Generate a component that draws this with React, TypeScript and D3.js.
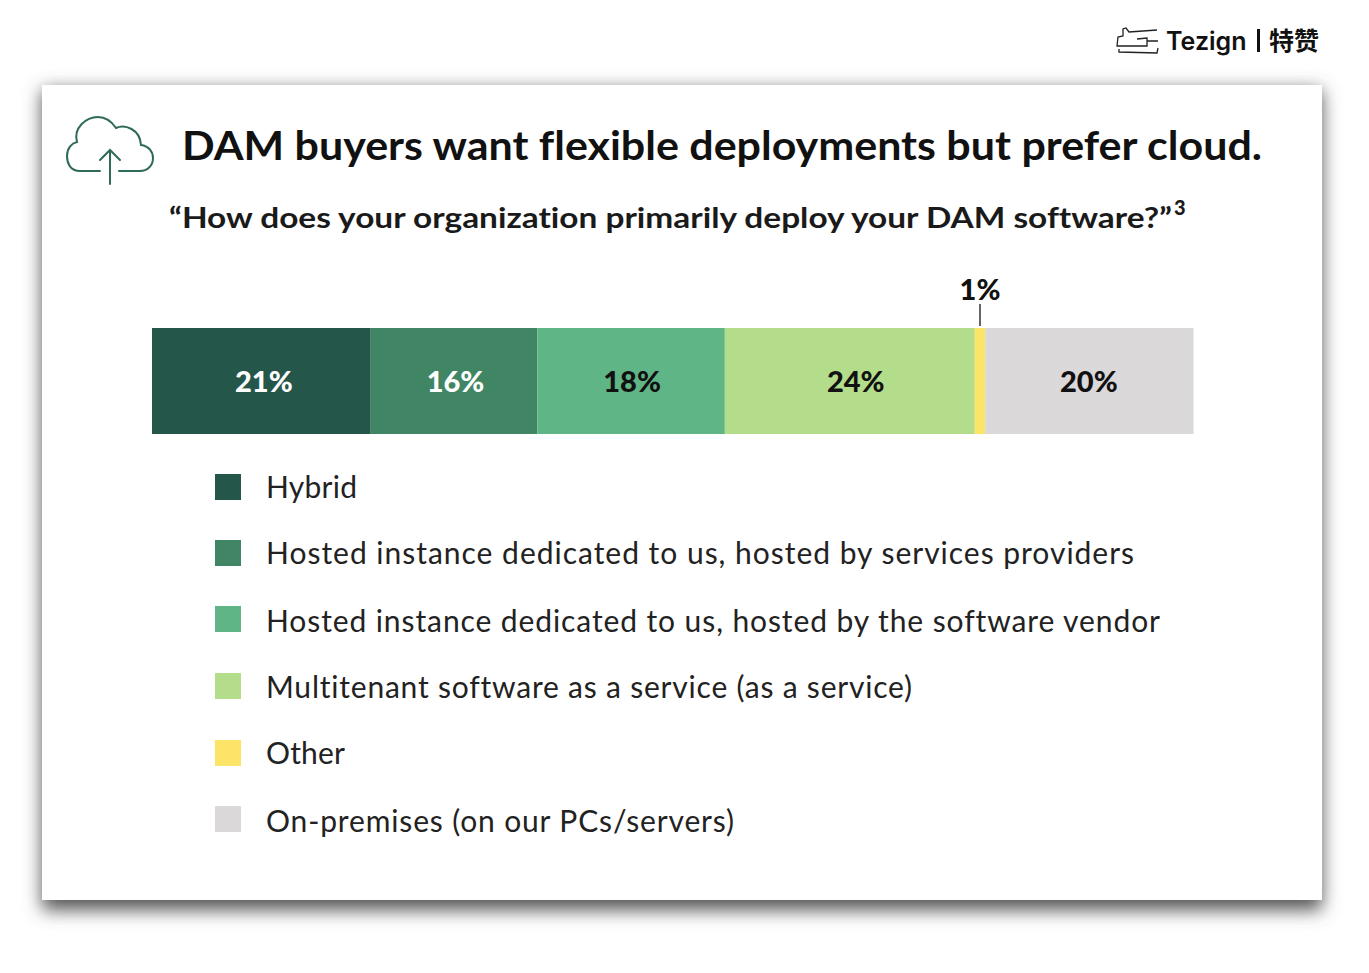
import { useEffect, useRef } from "react"
import * as d3 from "d3"

const categories = [
  "Hybrid",
  "Hosted instance dedicated to us, hosted by services providers",
  "Hosted instance dedicated to us, hosted by the software vendor",
  "Multitenant software as a service (as a service)",
  "Other",
  "On-premises (on our PCs/servers)",
]
const values = [21, 16, 18, 24, 1, 20]
const colors = ["#24564a", "#418664", "#5fb585", "#b4dd8b", "#fbe468", "#dad8d9"]
const labelColors = ["#ffffff", "#ffffff", "#111111", "#111111", "#111111", "#111111"]
// legend layout, rows are not evenly spaced
const legendSwatchTops = [474, 540, 606, 673, 740, 806]
const legendBaselines = [498, 564, 632, 698, 764, 832]
const legendWidths = [91, 868, 894, 646, 79, 468]
// the slide's labels do not sit exactly in the middle of their segments
const labelNudge = [2.5, 1.5, 1, 6, 0, -0.5]

const WIDTH = 1369
const HEIGHT = 973
const FONT = "Lato, 'Open Sans', sans-serif"

export default function App() {
  const svgRef = useRef<SVGSVGElement>(null)

  useEffect(() => {
    if (!svgRef.current) return

    // Clear previous chart
    d3.select(svgRef.current).selectAll("*").remove()

    const svg = d3.select(svgRef.current).style("font-variant-ligatures", "none")

    // Drop shadow of the slide
    const defs = svg.append("defs")
    const filter = defs
      .append("filter")
      .attr("id", "slide-shadow")
      .attr("x", "-10%")
      .attr("y", "-10%")
      .attr("width", "120%")
      .attr("height", "125%")
    filter.append("feGaussianBlur").attr("stdDeviation", 9)

    svg
      .append("rect")
      .attr("x", 42)
      .attr("y", 90)
      .attr("width", 1280)
      .attr("height", 820)
      .attr("fill", "#555555")
      .attr("filter", "url(#slide-shadow)")

    svg
      .append("rect")
      .attr("x", 42)
      .attr("y", 85)
      .attr("width", 1280)
      .attr("height", 815)
      .attr("fill", "#ffffff")

    // Tezign logo
    const logo = svg
      .append("g")
      .attr("fill", "none")
      .attr("stroke", "#222222")
      .attr("stroke-width", 1.3)
    logo
      .append("path")
      .attr(
        "d",
        "M1157 30 L1129 32 L1126 28 L1123 29 L1123 36 L1118 37 L1117 46 L1147 46 L1147 41 L1158 41 M1137 39 L1147 38 L1147 41 M1119 49 L1119 52 L1157 53 L1158 48",
      )

    svg
      .append("text")
      .attr("x", 1166)
      .attr("y", 50)
      .attr("font-family", "Inter, 'Liberation Sans', sans-serif")
      .attr("font-weight", 600)
      .attr("font-size", 25)
      .attr("fill", "#111111")
      .text("Tezign")

    svg
      .append("rect")
      .attr("x", 1257)
      .attr("y", 29)
      .attr("width", 3)
      .attr("height", 23)
      .attr("fill", "#111111")

    svg
      .append("text")
      .attr("x", 1269)
      .attr("y", 50)
      .attr("font-family", "'Noto Sans CJK SC', sans-serif")
      .attr("font-weight", 700)
      .attr("font-size", 25)
      .attr("fill", "#111111")
      .text("特赞")

    // Cloud icon
    const icon = svg
      .append("g")
      .attr("fill", "none")
      .attr("stroke", "#2f6a58")
      .attr("stroke-width", 2)
      .attr("stroke-linecap", "round")
    icon
      .append("path")
      .attr(
        "d",
        "M100 171 L80 171 C70 171 67 163 67 156 C67 148 72 143 77 142 C73 128 86 117 98 117 C106 117 112 122 116 128 C125 124 140 129 141 145 C149 146 153 152 153 158 C153 166 147 171 140 171 L119 171",
      )
    icon.append("path").attr("d", "M110 184 L110 150 M100 160 L110 150 L120 160")

    // Title and subtitle
    svg
      .append("text")
      .attr("x", 182)
      .attr("y", 160)
      .attr("font-family", FONT)
      .attr("font-weight", 700)
      .attr("font-size", 41)
      .attr("textLength", 1080)
      .attr("lengthAdjust", "spacingAndGlyphs")
      .attr("fill", "#111111")
      .text("DAM buyers want flexible deployments but prefer cloud.")

    svg
      .append("text")
      .attr("x", 169)
      .attr("y", 228)
      .attr("font-family", FONT)
      .attr("font-weight", 700)
      .attr("font-size", 29)
      .attr("textLength", 1003)
      .attr("lengthAdjust", "spacingAndGlyphs")
      .attr("fill", "#1a1a1a")
      .text("“How does your organization primarily deploy your DAM software?”")

    svg
      .append("text")
      .attr("x", 1174)
      .attr("y", 215)
      .attr("font-family", FONT)
      .attr("font-weight", 900)
      .attr("font-size", 20)
      .attr("fill", "#1a1a1a")
      .text("3")

    // Stacked bar
    const x = d3.scaleLinear().domain([0, d3.sum(values)]).range([152, 1193.5])
    const starts = values.map((_, i) => d3.sum(values.slice(0, i)))
    const barTop = 328
    const barHeight = 106

    const segments = svg
      .append("g")
      .selectAll("g")
      .data(values)
      .enter()
      .append("g")

    segments
      .append("rect")
      .attr("x", (_, i) => x(starts[i]))
      .attr("y", barTop)
      .attr("width", (d) => x(d) - x(0))
      .attr("height", barHeight)
      .attr("fill", (_, i) => colors[i])

    segments
      .filter((d) => d > 1)
      .append("text")
      .attr("x", (d) => x(starts[values.indexOf(d)] + d / 2) + labelNudge[values.indexOf(d)])
      .attr("y", barTop + 64)
      .attr("text-anchor", "middle")
      .attr("font-family", FONT)
      .attr("font-weight", 900)
      .attr("font-size", 29)
      .attr("fill", (d) => labelColors[values.indexOf(d)])
      .text((d) => `${d}%`)

    // Callout for the small segment
    const otherIndex = values.indexOf(1)
    const otherX = x(starts[otherIndex] + 0.5)
    svg
      .append("line")
      .attr("x1", otherX)
      .attr("x2", otherX)
      .attr("y1", 304)
      .attr("y2", 326)
      .attr("stroke", "#333333")
      .attr("stroke-width", 1.5)
    svg
      .append("text")
      .attr("x", otherX)
      .attr("y", 300)
      .attr("text-anchor", "middle")
      .attr("font-family", FONT)
      .attr("font-weight", 900)
      .attr("font-size", 29)
      .attr("fill", "#111111")
      .text("1%")

    // Legend
    const legend = svg
      .append("g")
      .selectAll("g")
      .data(categories)
      .enter()
      .append("g")

    legend
      .append("rect")
      .attr("x", 215)
      .attr("y", (_, i) => legendSwatchTops[i])
      .attr("width", 26)
      .attr("height", 26)
      .attr("fill", (_, i) => colors[i])

    legend
      .append("text")
      .attr("x", 266)
      .attr("y", (_, i) => legendBaselines[i])
      .attr("font-family", FONT)
      .attr("font-size", 30)
      .attr("textLength", (_, i) => legendWidths[i])
      .attr("lengthAdjust", "spacing")
      .attr("fill", "#222222")
      .text((d) => d)
  }, [])

  return (
    <div style={{ position: "absolute", left: 0, top: 0, width: WIDTH, height: HEIGHT, background: "#ffffff" }}>
      <svg ref={svgRef} width={WIDTH} height={HEIGHT} style={{ display: "block" }}></svg>
    </div>
  )
}
